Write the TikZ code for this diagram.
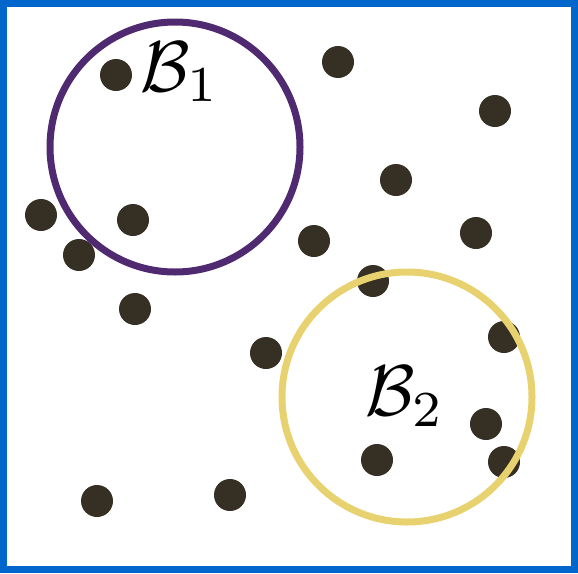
\documentclass[tikz,border=0pt]{standalone}
\usepackage{amsmath}
\usepackage{amssymb}
\usepackage{tikz}
\usetikzlibrary{positioning}
\definecolor{boxblue}{RGB}{0,102,204}
\definecolor{ballpurple}{RGB}{80,42,112}
\definecolor{ballyellow}{RGB}{232,210,112}
\definecolor{pointdark}{RGB}{53,47,36}

\begin{document}
\begin{tikzpicture}[x=1pt, y=-1pt]
    \tikzset{pointdot/.style={fill=pointdark, draw=none},
             ballring/.style={line width=7pt},
             balllabel/.style={scale=7.2, inner sep=0pt}}
    \useasboundingbox (0,0) rectangle (578,573);
    \draw[boxblue, line width=7pt] (3.5,3.5) rectangle (574.5,569.5);
    % sample points
    \foreach \px/\py in {116/75, 338/62, 495/111, 396/180, 41/215, 133/220,
                         79/255, 314/241, 476/233, 373/281, 135/309, 504/337,
                         266/353, 486/424, 377/460, 504/462, 97/501, 230/495}
      \fill[pointdot] (\px,\py) circle (16);
    % the two balls
    \draw[ballring, ballpurple] (175,147) circle (125);
    \draw[ballring, ballyellow] (407,397) circle (125);
    \node[balllabel] (b1) at (180,72) {$\mathcal{B}_1$};
    \node[balllabel] (b2) at (405,396) {$\mathcal{B}_2$};
  \end{tikzpicture}
\end{document}
